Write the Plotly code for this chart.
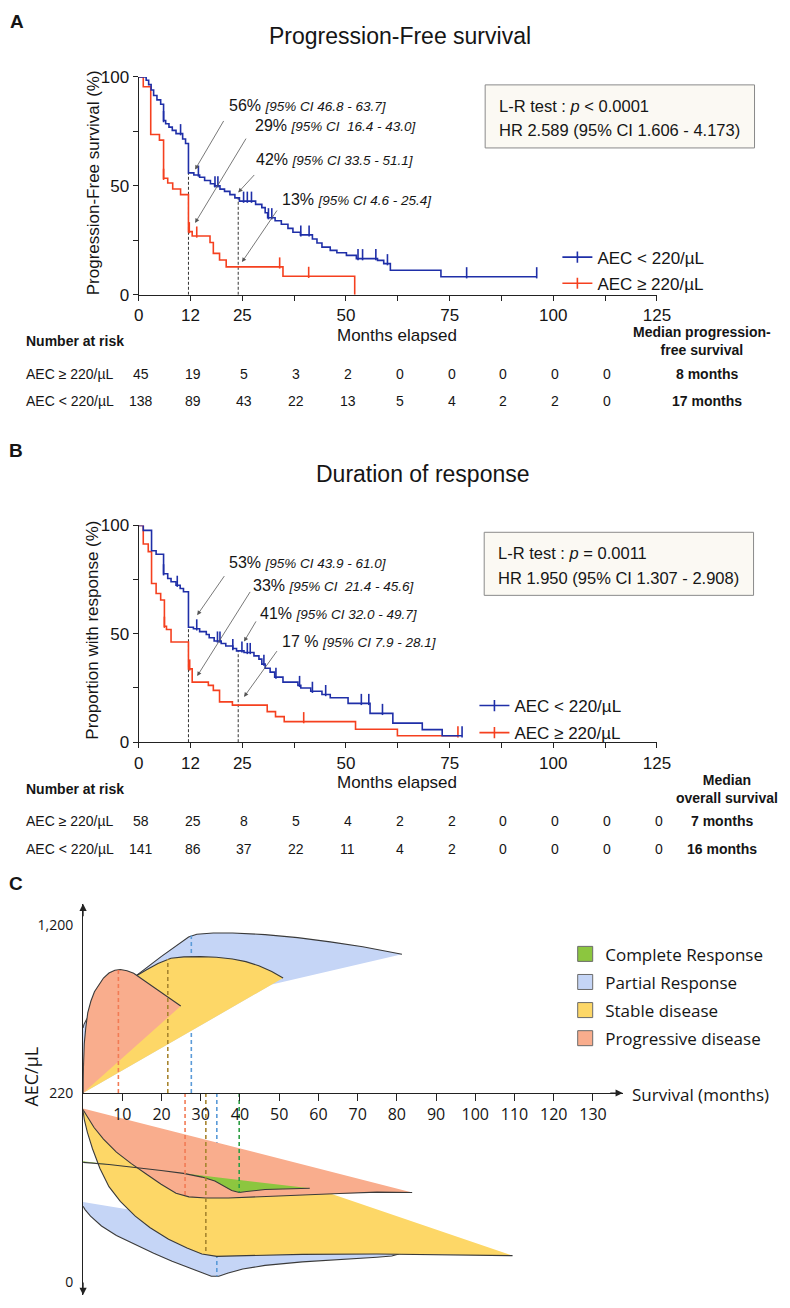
import plotly.graph_objects as go

W, H = 790, 1308

# ======================= DATA =======================
# ---- Panel A : progression-free survival (Kaplan-Meier steps, %) ----
pfs_low_t = [0, 1.8, 2.4, 3.0, 3.6, 4.4, 5.3, 6.0, 6.5, 7.3, 8.1, 9.0, 10.6, 11.3, 12.0,
             13.3, 14.7, 15.9, 17.3, 18.3, 19.6, 20.7, 22.0, 23.2, 24.3, 28.2, 29.7, 30.5,
             31.1, 32.9, 34.4, 36.0, 37.2, 39.0, 41.9, 43.0, 44.2, 46.2, 47.8, 50.1, 52.5,
             57.6, 59.1, 60.7, 72.9]
pfs_low_s = [100, 98.5, 96.5, 94, 91.5, 89.5, 87.5, 80, 78.5, 77, 75.5, 74, 71.5, 69.5, 56,
             55, 54, 52.5, 51, 50, 48.5, 47.5, 46, 44.5, 43, 41.5, 40, 37.7,
             35.4, 34, 32.4, 30.5, 28.7, 27.5, 25.6, 23.8, 21.9, 20.4, 19.3, 18.1, 16.6,
             15.8, 14.3, 11.3, 8.3]
pfs_low_end = 96
pfs_low_cens = [6.0, 10.1, 14.4, 18.4, 19.1, 25.3, 26.2, 27.2, 31.3, 32.1, 39.1, 41.1,
                52.9, 54.0, 57.2, 60.0, 79.1, 96.0]

pfs_high_t = [0, 1.1, 2.9, 5.0, 6.0, 7.0, 8.2, 10.1, 12.0, 12.9, 17.2, 18.0, 19.5, 21.1, 34.8, 52.1]
pfs_high_s = [100, 95.5, 73.6, 71, 53.5, 51.3, 48.6, 46, 29, 27, 24, 19, 16, 12.8, 8.5, 0]
pfs_high_end = 52.1
pfs_high_cens = [6.0, 12.2, 14.0, 34.0, 41.0]

risk_times_a = [0, 12.5, 25, 37.5, 50, 62.5, 75, 87.5, 100, 112.5]
pfs_risk_high = [45, 19, 5, 3, 2, 0, 0, 0, 0, 0]
pfs_risk_low = [138, 89, 43, 22, 13, 5, 4, 2, 2, 0]
pfs_median = ["8 months", "17 months"]
pfs_landmarks = [12, 24]
pfs_pct = ["56%", "29%", "42%", "13%"]
pfs_ci = ["[95% CI 46.8 - 63.7]", "[95% CI  16.4 - 43.0]", "[95% CI 33.5 - 51.1]", "[95% CI 4.6 - 25.4]"]
pfs_stats = ["L-R test : <i>p</i> &lt; 0.0001", "HR 2.589 (95% CI 1.606 - 4.173)"]

# ---- Panel B : duration of response ----
dor_low_t = [0, 1.1, 3.1, 4.2, 6.0, 7.0, 7.8, 9.0, 10.0, 10.8, 12.0, 13.2, 14.7, 16.3, 17.0,
             18.2, 19.9, 21.0, 22.7, 23.6, 25.4, 27.8, 29.0, 29.7, 30.5, 31.7, 32.8, 34.8,
             38.4, 39.1, 41.5, 44.2, 46.2, 50.5, 55.8, 61.3, 68.4, 73.2]
dor_low_s = [100, 97.7, 88.3, 86.7, 77.7, 75.5, 74, 72.4, 70.9, 69.4, 53, 52.3, 51, 49.7, 48.2,
             46.7, 45.5, 44.4, 43.2, 42.1, 41.4, 39.8, 38.3, 36, 34.1, 32.3, 30, 27.7,
             26.2, 25, 23.5, 22, 20.5, 17.9, 13.3, 8.8, 5.8, 3]
dor_low_end = 78
dor_low_cens = [6.0, 9.3, 14.0, 19.0, 19.6, 22.7, 24.9, 26.2, 26.9, 30.2, 33.1, 38.8,
                41.9, 45.1, 53.7, 55.5, 58.8, 78.0]

dor_high_t = [0, 1.1, 2.3, 3.1, 4.2, 5.3, 6.2, 6.7, 7.8, 12.0, 12.9, 16.8, 18.0, 19.5, 22.6,
              31.0, 33.0, 35.1, 52.3, 62.4]
dor_high_s = [100, 91.4, 87.9, 73.2, 68.6, 65.6, 53.5, 52, 46.2, 33.8, 27.7, 26.2, 23.9, 18.6,
              17.1, 14.1, 11.8, 9.5, 6, 3]
dor_high_end = 77
dor_high_cens = [6.2, 12.3, 39.8, 77.0]

risk_times_b = [0, 12.5, 25, 37.5, 50, 62.5, 75, 87.5, 100, 112.5, 125]
dor_risk_high = [58, 25, 8, 5, 4, 2, 2, 0, 0, 0, 0]
dor_risk_low = [141, 86, 37, 22, 11, 4, 2, 0, 0, 0, 0]
dor_median = ["7 months", "16 months"]
dor_landmarks = [12, 24]
dor_pct = ["53%", "33%", "41%", "17 %"]
dor_ci = ["[95% CI 43.9 - 61.0]", "[95% CI  21.4 - 45.6]", "[95% CI 32.0 - 49.7]", "[95% CI 7.9 - 28.1]"]
dor_stats = ["L-R test : <i>p</i> = 0.0011", "HR 1.950 (95% CI 1.307 - 2.908)"]

km_tickvals = [0, 12.5, 25, 37.5, 50, 62.5, 75, 87.5, 100, 112.5, 125]
km_ticktext = ["0", "12", "25", "", "50", "", "75", "", "100", "", "125"]
km_ytickvals = [0, 25, 50, 75, 100]
km_yticktext = ["0", "", "50", "", "100"]

# ---- Panel C : schematic AEC (level: 0 = 220/uL line, 1 = 1,200) vs survival months ----
response_names = ["Complete Response", "Partial Response", "Stable disease", "Progressive disease"]

pr_up_base_m = [0.0, 48.1, 81.3]
pr_up_base_v = [0.0, 0.647, 0.828]
pr_up_curve_m = [81.3, 71.3, 63.0, 54.7, 46.4, 38.1, 33.2, 29.0, 26.9, 24.9, 19.9, 13.3, 7.5, 3.3, 1.8, 0.8, 0.2, 0.0]
pr_up_curve_v = [0.828, 0.873, 0.902, 0.927, 0.945, 0.955, 0.955, 0.947, 0.931, 0.898, 0.814, 0.696, 0.598, 0.510, 0.471, 0.435, 0.408, 0.388]

sd_up_base_m = [0.0, 51.0]
sd_up_base_v = [0.0, 0.686]
sd_up_curve_m = [51.0, 48.1, 44.8, 41.5, 38.1, 34.0, 29.9, 25.7, 22.4, 19.1, 16.2, 13.3, 9.1, 5.0, 1.7, 0.0]
sd_up_curve_v = [0.686, 0.725, 0.759, 0.784, 0.800, 0.810, 0.814, 0.812, 0.804, 0.773, 0.735, 0.696, 0.637, 0.529, 0.333, 0.0]

pd_up_base_m = [0.0, 24.9]
pd_up_base_v = [0.0, 0.519]
pd_up_curve_m = [24.9, 22.8, 20.7, 18.7, 16.6, 14.5, 12.9, 11.2, 9.5, 8.1, 6.6, 5.2, 4.0, 2.9, 2.0, 1.2, 0.7, 0.3, 0.1, 0.0]
pd_up_curve_v = [0.519, 0.553, 0.588, 0.624, 0.657, 0.690, 0.714, 0.729, 0.737, 0.733, 0.716, 0.686, 0.647, 0.604, 0.549, 0.480, 0.392, 0.294, 0.157, 0.0]

pd_lo_base_m = [0.0, 83.9]
pd_lo_base_v = [-0.092, -0.594]
pd_lo_curve_m = [83.9, 74.9, 65.4, 55.9, 46.4, 37.0, 31.3, 27.0, 23.7, 19.9, 16.1, 12.3, 8.5, 5.2, 2.8, 1.1, 0.2, 0.0]
pd_lo_curve_v = [-0.594, -0.592, -0.600, -0.610, -0.620, -0.627, -0.627, -0.620, -0.598, -0.545, -0.484, -0.422, -0.353, -0.275, -0.206, -0.147, -0.108, -0.098]

sd_lo_base_m = [0.0, 109.5]
sd_lo_base_v = [-0.098, -0.971]
sd_lo_curve_m = [109.5, 93.8, 74.9, 55.9, 41.7, 34.1, 30.3, 26.5, 21.8, 17.1, 13.3, 9.5, 6.6, 4.3, 2.4, 1.1, 0.3, 0.0]
sd_lo_curve_v = [-0.971, -0.965, -0.961, -0.963, -0.971, -0.975, -0.961, -0.925, -0.873, -0.804, -0.735, -0.647, -0.559, -0.451, -0.333, -0.235, -0.157, -0.108]

pr_lo_base_m = [0.0, 80.5]
pr_lo_base_v = [-0.651, -0.961]
pr_lo_curve_m = [80.5, 78.7, 74.9, 65.4, 55.9, 46.4, 40.7, 37.0, 34.6, 32.7, 27.5, 22.7, 18.0, 13.3, 8.5, 4.7, 1.9, 0.5, 0.0]
pr_lo_curve_v = [-0.961, -0.973, -0.980, -0.992, -1.008, -1.029, -1.051, -1.075, -1.094, -1.094, -1.049, -1.004, -0.957, -0.906, -0.851, -0.794, -0.735, -0.696, -0.676]

cr_lo_base_m = [0.0, 57.8]
cr_lo_base_v = [-0.408, -0.569]
cr_lo_curve_m = [57.8, 52.1, 46.4, 41.7, 39.8, 37.9, 36.0, 33.6, 30.3, 25.6, 19.9, 13.3, 6.6, 0.0]
cr_lo_curve_v = [-0.569, -0.571, -0.576, -0.588, -0.594, -0.582, -0.555, -0.525, -0.502, -0.480, -0.463, -0.443, -0.427, -0.414]

# median survival markers (months, level reached)
up_dash_m = {"PD": 9.0, "SD": 21.6, "PR": 27.6}
up_dash_v = {"PD": 0.737, "SD": 0.800, "PR": 0.940}
lo_dash_m = {"PD": 26.0, "SD": 31.3, "PR": 34.1, "CR": 39.8}
lo_dash_v = {"PD": -0.622, "SD": -0.961, "PR": -1.094, "CR": -0.594}

c_xtickvals = [10, 20, 30, 40, 50, 60, 70, 80, 90, 100, 110, 120, 130]
c_ytickvals = [-1.129, 0.0, 1.0]
c_yticktext = ["0", "220", "1,200"]

# ======================= STYLE =======================
FA = "Liberation Sans, Arial, sans-serif"
FC = "Open Sans, Noto Sans, sans-serif"
BLUE = "#1f2fa8"
RED = "#f5401f"
TXT = "#151515"
FILL = {"CR": "#8cc63f", "PR": "#c5d5f6", "SD": "#fdd767", "PD": "#f9ad8d"}
DASH = {"CR": "#2e9f45", "PR": "#5b9bd8", "SD": "#a7852f", "PD": "#f27b55"}
OUT = "#3a3a3a"


def px(x):
    return x / W


def py(y):
    return 1 - y / H


def step_at(times, vals, t):
    v = vals[0]
    for ti, vi in zip(times, vals):
        if ti <= t:
            v = vi
    return v


fig = go.Figure()
ann = []


def add_km(times, surv, end, cens, color, xa, ya):
    x = list(times) + [end]
    y = list(surv) + [surv[-1]]
    fig.add_trace(go.Scatter(x=x, y=y, mode="lines", line=dict(color=color, width=1.6, shape="hv"),
                             xaxis=xa, yaxis=ya, showlegend=False, cliponaxis=False, hoverinfo="skip"))
    cy = [step_at(times, surv, c) + 1.8 for c in cens]
    fig.add_trace(go.Scatter(x=cens, y=cy, mode="markers",
                             marker=dict(symbol="line-ns", size=8, line=dict(color=color, width=1.6)),
                             xaxis=xa, yaxis=ya, showlegend=False, cliponaxis=False, hoverinfo="skip"))


def add_landmarks(lms, times, surv, xa, ya):
    for t in lms:
        fig.add_trace(go.Scatter(x=[t, t], y=[0, step_at(times, surv, t)], mode="lines",
                                 line=dict(color="#333", width=1, dash="3px,2px"),
                                 xaxis=xa, yaxis=ya, showlegend=False, hoverinfo="skip"))


def add_legend_entries(names, colors, xa, ya, leg):
    for i, (n, c) in enumerate(zip(names, colors)):
        fig.add_trace(go.Scatter(x=[None], y=[None], mode="lines+markers", name=n,
                                 line=dict(color=c, width=1.6),
                                 marker=dict(symbol="line-ns", size=8, line=dict(color=c, width=1.6)),
                                 xaxis=xa, yaxis=ya, legend=leg, legendgroup=f"{leg}_{i}"))


# ---- Panel A traces ----
add_landmarks(pfs_landmarks, pfs_low_t, pfs_low_s, "x", "y")
add_km(pfs_high_t, pfs_high_s, pfs_high_end, pfs_high_cens, RED, "x", "y")
add_km(pfs_low_t, pfs_low_s, pfs_low_end, pfs_low_cens, BLUE, "x", "y")
add_legend_entries(["AEC &lt; 220/µL", "AEC ≥ 220/µL"], [BLUE, RED], "x", "y", "legend")

# ---- Panel B traces ----
add_landmarks(dor_landmarks, dor_low_t, dor_low_s, "x2", "y2")
add_km(dor_high_t, dor_high_s, dor_high_end, dor_high_cens, RED, "x2", "y2")
add_km(dor_low_t, dor_low_s, dor_low_end, dor_low_cens, BLUE, "x2", "y2")
add_legend_entries(["AEC &lt; 220/µL", "AEC ≥ 220/µL"], [BLUE, RED], "x2", "y2", "legend2")


# ---- Panel C traces ----
def add_region(base_m, base_v, curve_m, curve_v, key, outline=True):
    xs = list(base_m) + list(curve_m[1:])
    ys = list(base_v) + list(curve_v[1:])
    fig.add_trace(go.Scatter(x=xs, y=ys, mode="lines", fill="toself", fillcolor=FILL[key],
                             line=dict(width=0, color=FILL[key]), xaxis="x3", yaxis="y3",
                             showlegend=False, hoverinfo="skip"))
    if outline:
        fig.add_trace(go.Scatter(x=curve_m, y=curve_v, mode="lines", line=dict(color=OUT, width=1.1),
                                 xaxis="x3", yaxis="y3", showlegend=False, hoverinfo="skip"))


def add_cdash(m, v, key):
    fig.add_trace(go.Scatter(x=[m, m], y=[0, v], mode="lines",
                             line=dict(color=DASH[key], width=1.6, dash="4px,3px"),
                             xaxis="x3", yaxis="y3", showlegend=False, hoverinfo="skip"))


add_region(pr_up_base_m, pr_up_base_v, pr_up_curve_m, pr_up_curve_v, "PR")
add_region(pr_lo_base_m, pr_lo_base_v, pr_lo_curve_m, pr_lo_curve_v, "PR")
add_cdash(up_dash_m["PR"], up_dash_v["PR"], "PR")
add_cdash(lo_dash_m["PR"], lo_dash_v["PR"], "PR")
add_region(sd_up_base_m, sd_up_base_v, sd_up_curve_m, sd_up_curve_v, "SD")
add_region(sd_lo_base_m, sd_lo_base_v, sd_lo_curve_m, sd_lo_curve_v, "SD")
add_region(pd_up_base_m, pd_up_base_v, pd_up_curve_m, pd_up_curve_v, "PD")
add_region(pd_lo_base_m, pd_lo_base_v, pd_lo_curve_m, pd_lo_curve_v, "PD")
add_region(cr_lo_base_m, cr_lo_base_v, cr_lo_curve_m, cr_lo_curve_v, "CR")
for k in ["SD", "PD"]:
    add_cdash(up_dash_m[k], up_dash_v[k], k)
for k in ["SD", "PD", "CR"]:
    add_cdash(lo_dash_m[k], lo_dash_v[k], k)

for i, (name, key) in enumerate(zip(response_names, ["CR", "PR", "SD", "PD"])):
    fig.add_trace(go.Scatter(x=[None], y=[None], mode="markers", name=name,
                             marker=dict(symbol="square", size=15, color=FILL[key],
                                         line=dict(color="#6a6a6a", width=1)),
                             xaxis="x3", yaxis="y3", legend="legend3", legendgroup=f"c_{i}"))


# ======================= ANNOTATIONS =======================
def txt(x, y, s, size, font=FA, xanchor="left", yanchor="middle", xref="paper", yref="paper",
        angle=0, align="left", color=TXT, xshift=0):
    ann.append(dict(x=x, y=y, text=s, showarrow=False, xref=xref, yref=yref, xanchor=xanchor,
                    yanchor=yanchor, textangle=angle, align=align, xshift=xshift,
                    font=dict(family=font, size=size, color=color)))


def arrow(hx, hy, tx, ty, xa, ya):
    ann.append(dict(x=hx, y=hy, ax=tx, ay=ty, xref=xa, yref=ya, axref=xa, ayref=ya, text="",
                    showarrow=True, arrowhead=2, arrowsize=1.1, arrowwidth=0.8, arrowcolor="#555"))


# panel letters & titles
txt(px(3), py(13), "<b>A</b>", 19)
txt(px(2), py(448), "<b>B</b>", 19)
txt(px(2), py(887), "<b>C</b>", 19)
txt(px(405), py(27), "Progression-Free survival", 23, xanchor="center")
txt(px(428), py(472), "Duration of response", 23, xanchor="center")
txt(px(91), py(176), "Progression-Free survival (%)", 17, xanchor="center", angle=-90)
txt(px(90), py(630), "Proportion with response (%)", 17, xanchor="center", angle=-90)

# percent call-outs (A, B)
a_heads = [(13.6, 57.5), (13.6, 33.0), (24.0, 47.0), (24.9, 15.0)]
a_tails = [(20.7, 80.5), (26.1, 72.4), (28.2, 55.7), (33.6, 39.4)]
a_texts = [(21.4, 86.9), (27.5, 77.8), (27.8, 62.0), (34.1, 43.9)]
b_heads = [(14.1, 58.6), (14.1, 30.5), (25.4, 46.4), (25.4, 20.9)]
b_tails = [(20.9, 77.3), (27.1, 70.0), (28.5, 56.4), (33.6, 42.7)]
b_texts = [(21.2, 82.7), (27.1, 72.3), (28.7, 59.5), (34.1, 46.4)]
for heads, tails, texts, pcts, cis, xa, ya in [
        (a_heads, a_tails, a_texts, pfs_pct, pfs_ci, "x", "y"),
        (b_heads, b_tails, b_texts, dor_pct, dor_ci, "x2", "y2")]:
    for (hx, hy), (tx, ty), (lx, ly), p, c in zip(heads, tails, texts, pcts, cis):
        arrow(hx, hy, tx, ty, xa, ya)
        txt(lx, ly, f"{p} <i><span style='font-size:13.5px'>{c}</span></i>", 16, xref=xa, yref=ya)

# statistics boxes
for (x0, y0, x1, y1), lines in [((492, 77, 768, 141), pfs_stats), ((491, 531, 767, 595), dor_stats)]:
    fig.add_shape(type="rect", xref="paper", yref="paper", x0=px(x0), x1=px(x1), y0=py(y1), y1=py(y0),
                  line=dict(color="#8a8a8a", width=1), fillcolor="#fbf9f3", layer="above")
    txt(px(x0 + 12), py(y0 + 21), lines[0], 16.5)
    txt(px(x0 + 12), py(y0 + 46), lines[1], 16.5)

# risk tables
for (ax_y, xa, times, high, low, med, med_head, med_cx, row_med_cx) in [
        (290, "x", risk_times_a, pfs_risk_high, pfs_risk_low, pfs_median,
         "Median progression-<br>free survival", 714, 719),
        (744, "x2", risk_times_b, dor_risk_high, dor_risk_low, dor_median,
         "Median<br>overall survival", 740, 735)]:
    txt(px(402), py(ax_y + 41), "Months elapsed", 17, xanchor="center")
    txt(px(19), py(ax_y + 47), "<b>Number at risk</b>", 14)
    txt(px(med_cx), py(ax_y + 47), f"<b>{med_head}</b>", 14, xanchor="center", align="center")
    r1, r2 = ax_y + 80, ax_y + 108
    txt(px(19), py(r1), "AEC ≥ 220/µL", 14)
    txt(px(19), py(r2), "AEC &lt; 220/µL", 14)
    for t, a, b in zip(times, high, low):
        txt(t, py(r1), str(a), 14, xanchor="center", xref=xa, xshift=2)
        txt(t, py(r2), str(b), 14, xanchor="center", xref=xa, xshift=2)
    txt(px(row_med_cx), py(r1), f"<b>{med[0]}</b>", 14, xanchor="center")
    txt(px(row_med_cx), py(r2), f"<b>{med[1]}</b>", 14, xanchor="center")

# panel C labels and axis arrows
txt(px(640), py(1101), "Survival (months)", 17, font=FC)
txt(px(27), py(1083), "AEC/µL", 18, font=FC, xanchor="center", angle=-90)
C_XMAX, C_YMIN, C_YMAX = 137.6, -1.206, 1.129
for (x, y, ax, ay) in [(0, C_YMAX, 0, 14), (0, C_YMIN, 0, -14), (C_XMAX, 0, -14, 0)]:
    ann.append(dict(x=x, y=y, ax=ax, ay=ay, xref="x3", yref="y3", text="", showarrow=True,
                    arrowhead=2, arrowsize=1.2, arrowwidth=1.2, arrowcolor="#222"))

# ======================= LAYOUT =======================
km_x = dict(range=[0, 125], showline=True, linecolor="#222", linewidth=1.2, ticks="outside",
            ticklen=5, tickwidth=1.2, tickcolor="#222", tickvals=km_tickvals, ticktext=km_ticktext,
            tickfont=dict(family=FA, size=17, color=TXT), showgrid=False, zeroline=False,
            domain=[px(137), px(668)])
km_y = dict(range=[0, 100], showline=True, linecolor="#222", linewidth=1.2, ticks="outside",
            ticklen=5, tickwidth=1.2, tickcolor="#222", tickvals=km_ytickvals, ticktext=km_yticktext,
            tickfont=dict(family=FA, size=17, color=TXT), showgrid=False, zeroline=False)

leg_common = dict(xanchor="left", yanchor="top", bgcolor="rgba(0,0,0,0)", traceorder="grouped")

fig.update_layout(
    width=W, height=H, margin=dict(l=0, r=0, t=0, b=0),
    paper_bgcolor="white", plot_bgcolor="rgba(0,0,0,0)",
    xaxis=dict(km_x, anchor="y"),
    yaxis=dict(km_y, anchor="x", domain=[py(290), py(69)]),
    xaxis2=dict(km_x, anchor="y2"),
    yaxis2=dict(km_y, anchor="x2", domain=[py(744), py(524)]),
    xaxis3=dict(range=[0, C_XMAX], domain=[px(80), px(633)], anchor="free", position=py(1100),
                showline=True, linecolor="#222", linewidth=1.2, ticks="outside", ticklen=7,
                tickwidth=1.2, tickcolor="#222", tickvals=c_xtickvals,
                tickfont=dict(family=FC, size=16, color=TXT), showgrid=False, zeroline=False),
    yaxis3=dict(range=[C_YMIN, C_YMAX], domain=[py(1305), py(908)], anchor="x3", showline=True,
                linecolor="#222", linewidth=1.2, ticks="", tickvals=c_ytickvals, ticktext=c_yticktext,
                ticklabelstandoff=6, tickfont=dict(family=FC, size=14, color=TXT),
                showgrid=False, zeroline=False),
    legend=dict(leg_common, x=px(566), y=py(234), tracegroupgap=1,
                font=dict(family=FA, size=17, color=TXT)),
    legend2=dict(leg_common, x=px(481), y=py(689), tracegroupgap=2,
                 font=dict(family=FA, size=17, color=TXT)),
    legend3=dict(leg_common, x=px(574), y=py(941), tracegroupgap=3,
                 font=dict(family=FC, size=17, color=TXT)),
    annotations=ann,
    showlegend=True,
)

fig.write_html("out.html", config={"displayModeBar": False},
               post_script="document.body.style.margin='0px';")
